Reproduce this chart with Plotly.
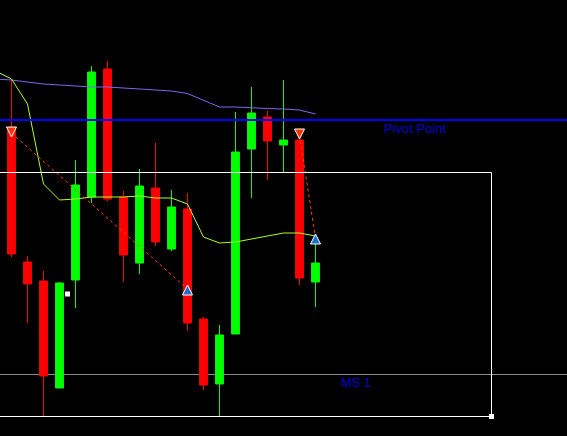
import plotly.graph_objects as go

# ---- data (price units) ----
bars = list(range(21))
opens  = [267, 307, 174, 155, 48, 156, 239, 367, 239, 173, 248, 187, 227, 117, 52, 102, 287, 319, 291, 296, 154]
highs  = [332, 356, 180, 165, 154, 276, 370, 375, 245, 267, 293, 246, 243, 119, 111, 324, 349, 325, 356, 298, 194]
lows   = [262, 179, 113, 19, 48, 128, 233, 235, 154, 162, 190, 185, 105, 46, 20, 102, 238, 256, 264, 151, 129]
closes = [329, 182, 152, 60, 153, 251, 364, 237, 181, 250, 194, 229, 113, 51, 101, 284, 323, 295, 296, 158, 173]

ma_slow = [357, 356, 354, 352, 351, 350, 349, 349, 348, 347, 346, 345, 342.5, 336, 329, 329, 328, 327.5, 327, 326, 322]
ma_fast = [365, 357, 332, 252, 236, 237, 239, 239, 239, 240, 238, 238, 232, 199, 193, 194, 197, 200, 203, 203, 200]

zz_x = [1, 12, None, 19, 20]
zz_y = [303, 147, None, 301, 198]
sell_x, sell_y = [1, 19], [299, 297]
buy_x, buy_y = [12, 20], [151, 202]
dot_x, dot_y = [4.5], [142]

pivot_level = 316
ms1_level = 61.5
box_x = [-5, 31]
box_y = [19.5, 263.5]

fig = go.Figure()

fig.add_trace(go.Candlestick(
    x=bars, open=opens, high=highs, low=lows, close=closes,
    increasing=dict(line=dict(color="#00FF00", width=1), fillcolor="#00FF00"),
    decreasing=dict(line=dict(color="#FF0000", width=1), fillcolor="#FF0000"),
    whiskerwidth=0, hoverinfo="skip", showlegend=False,
))

fig.add_trace(go.Scatter(x=bars, y=ma_slow, mode="lines",
                         line=dict(color="#7B68EE", width=1), hoverinfo="skip", showlegend=False))
fig.add_trace(go.Scatter(x=bars, y=ma_fast, mode="lines",
                         line=dict(color="#ADFF2F", width=1), hoverinfo="skip", showlegend=False))
fig.add_trace(go.Scatter(x=zz_x, y=zz_y, mode="lines", connectgaps=False,
                         line=dict(color="#FF4500", width=1, dash="dot"), hoverinfo="skip", showlegend=False))
fig.add_trace(go.Scatter(x=sell_x, y=sell_y, mode="markers",
                         marker=dict(symbol="arrow-down", size=10, color="#FF3300",
                                     line=dict(color="white", width=1)),
                         hoverinfo="skip", showlegend=False))
fig.add_trace(go.Scatter(x=buy_x, y=buy_y, mode="markers",
                         marker=dict(symbol="arrow-up", size=10, color="#1E6FC8",
                                     line=dict(color="white", width=1)),
                         hoverinfo="skip", showlegend=False))
fig.add_trace(go.Scatter(x=dot_x, y=dot_y, mode="markers",
                         marker=dict(symbol="square", size=5, color="white"),
                         hoverinfo="skip", showlegend=False))
fig.add_trace(go.Scatter(x=[box_x[1]], y=[box_y[0]], mode="markers",
                         marker=dict(symbol="square", size=5, color="white"),
                         hoverinfo="skip", showlegend=False))

fig.add_shape(type="line", xref="paper", x0=0, x1=1, y0=ms1_level, y1=ms1_level,
              line=dict(color="#8A8A8A", width=1), layer="below")
fig.add_shape(type="line", xref="paper", x0=0, x1=1, y0=pivot_level, y1=pivot_level,
              line=dict(color="#0000FF", width=2), layer="above")
fig.add_shape(type="rect", x0=box_x[0], x1=box_x[1], y0=box_y[0], y1=box_y[1],
              line=dict(color="white", width=1), fillcolor="rgba(0,0,0,0)", layer="above")

fig.add_annotation(x=24.16, y=pivot_level - 8, text="Pivot Point", showarrow=False,
                   xanchor="left", yanchor="middle",
                   font=dict(family="Liberation Sans, Arial", size=13, color="#0000CD"))
fig.add_annotation(x=21.47, y=ms1_level - 7.5, text="MS 1", showarrow=False,
                   xanchor="left", yanchor="middle",
                   font=dict(family="Liberation Sans, Arial", size=13, color="#0000CD"))

fig.update_layout(
    width=567, height=436,
    margin=dict(l=0, r=0, t=0, b=0),
    paper_bgcolor="black", plot_bgcolor="black",
    showlegend=False,
    xaxis=dict(range=[0.28125, 35.71875], visible=False, showgrid=False, zeroline=False,
               rangeslider=dict(visible=False), fixedrange=True),
    yaxis=dict(range=[0, 436], visible=False, showgrid=False, zeroline=False, fixedrange=True),
)

fig.write_html("out.html", config={"displayModeBar": False})

# remove the browser's default page margin so the chart fills the window
with open("out.html", encoding="utf-8") as f:
    html = f.read()
html = html.replace("<body>", '<body style="margin:0;padding:0;background:black;overflow:hidden">', 1)
with open("out.html", "w", encoding="utf-8") as f:
    f.write(html)
